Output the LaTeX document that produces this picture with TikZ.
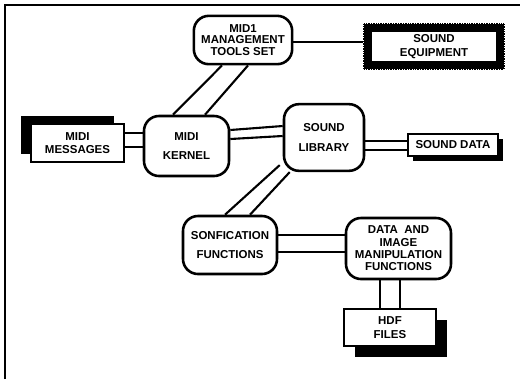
\documentclass[tikz,border=0pt]{standalone}
\usepackage{fontspec}
\setmainfont{Liberation Sans}
\usetikzlibrary{shadows}

\begin{document}
\begin{tikzpicture}[x=0.03cm,y=-0.03cm,
    every node/.style={font=\bfseries\fontsize{9.8}{11.5}\selectfont,
                       align=center,inner sep=0pt},
    module/.style={draw,line width=2.2pt,rounded corners=0.45cm,fill=white},
    store/.style={draw,line width=1.8pt,fill=white},
    link/.style={line width=1.8pt}]
  \useasboundingbox (0,0) rectangle (520,379);
  \draw[line width=1.8pt] (5,379) -- (5,5) -- (520,5);
  % processing modules
  \node[module,minimum width=2.95cm,minimum height=1.45cm] (mgmt) at (243,40)
    {MID1\\[-2pt]MANAGEMENT\\[-2pt]TOOLS SET};
  \node[module,minimum width=2.55cm,minimum height=1.8cm] (kernel) at (186.5,146)
    {MIDI\\[4pt]KERNEL};
  \node[module,minimum width=2.4cm,minimum height=2.0cm] (lib) at (324,137.5)
    {SOUND\\[5pt]LIBRARY};
  \node[module,minimum width=2.82cm,minimum height=1.74cm] (sonif) at (230,245)
    {SONFICATION\\[4pt]FUNCTIONS};
  \node[module,minimum width=3.15cm,minimum height=1.83cm] (dataimg) at (398.5,248.5)
    {DATA\ \ AND\\[-1pt]IMAGE\\[-1pt]MANIPULATION\\[-1pt]FUNCTIONS};
  % data stores
  \node[store,minimum width=2.8cm,minimum height=1.15cm,
        drop shadow={shadow xshift=-0.3cm,shadow yshift=0.24cm,
                     fill=black,opacity=1}] (msg) at (77.5,143)
    {MIDI\\MESSAGES};
  \node[store,minimum width=2.7cm,minimum height=0.68cm,
        drop shadow={shadow xshift=0.15cm,shadow yshift=-0.15cm,
                     fill=black,opacity=1}] (snddata) at (453,145)
    {SOUND DATA};
  \node[store,minimum width=2.78cm,minimum height=1.12cm,
        drop shadow={shadow xshift=0.33cm,shadow yshift=-0.33cm,
                     fill=black,opacity=1}] (hdf) at (390,327.5)
    {HDF\\FILES};
  \node[draw,line width=0.27cm,fill=white,minimum width=4.0cm,
        minimum height=1.15cm] (equip) at (434,46.5)
    {SOUND\\EQUIPMENT};
  \draw[white,line width=1.4pt,dash pattern=on 0.8pt off 1.3pt]
    (equip.south west) rectangle (equip.north east);
  % connectors
  \draw[link] ([shift={(0,2)}]mgmt.east) -- ([shift={(0,-4.5)}]equip.west);
  \draw[link] ([shift={(-21,0)}]mgmt.south) -- ([shift={(-13.5,0)}]kernel.north);
  \draw[link] ([shift={(5,0)}]mgmt.south) -- ([shift={(18.5,0)}]kernel.north);
  \draw[link] ([shift={(0,-10)}]msg.east) -- ([shift={(0,-13)}]kernel.west);
  \draw[link] ([shift={(0,4)}]msg.east) -- ([shift={(0,1)}]kernel.west);
  \draw[link] ([shift={(0,-16)}]kernel.east) -- ([shift={(0,-11.5)}]lib.west);
  \draw[link] ([shift={(0,-7)}]kernel.east) -- ([shift={(0,-1.5)}]lib.west);
  \draw[link] ([shift={(0,3.5)}]lib.east) -- ([shift={(0,-4)}]snddata.west);
  \draw[link] ([shift={(0,12.5)}]lib.east) -- ([shift={(0,5)}]snddata.west);
  \draw[link] ([shift={(-3,-7)}]lib.south west) -- ([shift={(-5,0)}]sonif.north);
  \draw[link] ([shift={(7,0)}]lib.south west) -- ([shift={(20,0)}]sonif.north);
  \draw[link] ([shift={(0,-10)}]sonif.east) -- ([shift={(0,-13.5)}]dataimg.west);
  \draw[link] ([shift={(0,7)}]sonif.east) -- ([shift={(0,3.5)}]dataimg.west);
  \draw[link] ([shift={(-18.5,0)}]dataimg.south) -- ([shift={(-10,0)}]hdf.north);
  \draw[link] ([shift={(1.5,0)}]dataimg.south) -- ([shift={(10,0)}]hdf.north);
\end{tikzpicture}
\end{document}
